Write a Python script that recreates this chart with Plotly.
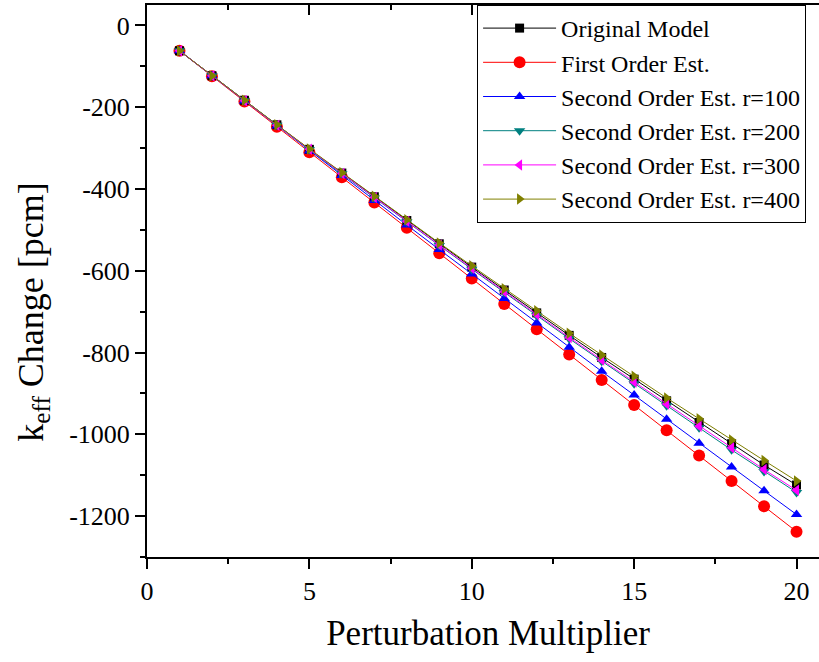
import plotly.graph_objects as go

multiplier = list(range(1, 21))

original_model = [-62, -123, -183, -243, -303, -361, -419, -477, -534, -591,
                  -647, -703, -758, -812, -865, -918, -971, -1023, -1075, -1124]
first_order = [-62, -124, -186, -248, -310, -371, -433, -495, -557, -619,
               -681, -743, -805, -867, -928, -990, -1052, -1114, -1176, -1238]
second_r100 = [-62, -123, -185, -246, -307, -367, -428, -488, -548, -608,
               -668, -728, -787, -846, -904, -963, -1022, -1080, -1138, -1196]
second_r200 = [-62, -123, -184, -244, -304, -363, -422, -480, -538, -596,
               -653, -710, -766, -821, -876, -930, -984, -1038, -1091, -1142]
second_r300 = [-62, -123, -184, -244, -303, -362, -421, -479, -537, -594,
               -651, -707, -763, -818, -872, -926, -980, -1033, -1086, -1137]
second_r400 = [-62, -123, -183, -243, -302, -360, -418, -475, -532, -588,
               -644, -698, -753, -806, -858, -911, -962, -1014, -1064, -1114]

x_tick_vals = [0, 5, 10, 15, 20]
x_tick_text = ["0", "5", "10", "15", "20"]
y_tick_vals = [0, -200, -400, -600, -800, -1000, -1200]
y_tick_text = ["0", "-200", "-400", "-600", "-800", "-1000", "-1200"]

FONT = "Liberation Serif, Times New Roman, serif"

series = [
    # name, values, color, symbol, size, legend rank
    ("First Order Est.", first_order, "#ff0000", "circle", 12, 2),
    ("Original Model", original_model, "#000000", "square", 9, 1),
    ("Second Order Est. r=100", second_r100, "#0000ff", "triangle-up", 10, 3),
    ("Second Order Est. r=200", second_r200, "#008080", "triangle-down", 10, 4),
    ("Second Order Est. r=300", second_r300, "#ff00ff", "triangle-left", 10, 5),
    ("Second Order Est. r=400", second_r400, "#808000", "triangle-right", 10, 6),
]

fig = go.Figure()
for name, vals, color, symbol, size, rank in series:
    fig.add_trace(go.Scatter(
        x=multiplier, y=vals, name=name, mode="lines+markers",
        line=dict(color=color, width=1),
        marker=dict(color=color, symbol=symbol, size=size, line=dict(width=0)),
        legendrank=rank,
    ))

# helper trace for the mirrored (top/right) axes
fig.add_trace(go.Scatter(x=[None], y=[None], xaxis="x2", yaxis="y2",
                         showlegend=False, hoverinfo="skip"))

axis_common = dict(
    showline=True, linecolor="black", linewidth=2,
    showgrid=False, zeroline=False,
    tickcolor="black", tickwidth=2,
    tickfont=dict(family=FONT, size=26, color="black"),
)

fig.update_layout(
    width=830, height=662,
    margin=dict(l=147, r=1, t=5, b=105),
    paper_bgcolor="white", plot_bgcolor="white",
    font=dict(family=FONT, color="black"),
    xaxis=dict(
        range=[0, 21], tickvals=x_tick_vals, ticktext=x_tick_text,
        ticks="outside", ticklen=10,
        minor=dict(dtick=2.5, tick0=0, ticks="outside", ticklen=5,
                   tickwidth=2, tickcolor="black"),
        title=dict(text="Perturbation Multiplier",
                   font=dict(family=FONT, size=35, color="black"), standoff=15),
        **axis_common,
    ),
    yaxis=dict(
        range=[-1300, 50], tickvals=y_tick_vals, ticktext=y_tick_text,
        ticks="outside", ticklen=10,
        minor=dict(dtick=100, tick0=0, ticks="outside", ticklen=5,
                   tickwidth=2, tickcolor="black"),
        **axis_common,
    ),
    xaxis2=dict(
        overlaying="x", side="top", anchor="y", range=[0, 21],
        tickvals=x_tick_vals, showticklabels=False,
        ticks="inside", ticklen=10,
        minor=dict(dtick=2.5, tick0=0, ticks="inside", ticklen=5,
                   tickwidth=2, tickcolor="black"),
        **axis_common,
    ),
    yaxis2=dict(
        overlaying="y", side="right", anchor="x", range=[-1300, 50],
        tickvals=y_tick_vals, showticklabels=False,
        ticks="inside", ticklen=10,
        minor=dict(dtick=100, tick0=0, ticks="inside", ticklen=5,
                   tickwidth=2, tickcolor="black"),
        **axis_common,
    ),
    legend=dict(
        x=0.484, y=1, xanchor="left", yanchor="top",
        bgcolor="white", bordercolor="black", borderwidth=1,
        font=dict(family=FONT, size=24, color="black"),
        itemwidth=73, tracegroupgap=0,
    ),
    annotations=[dict(
        text="k<sub>eff</sub> Change [pcm]", textangle=-90,
        xref="paper", yref="paper", x=-0.166, y=0.444,
        xanchor="center", yanchor="middle", showarrow=False,
        font=dict(family=FONT, size=36, color="black"),
    )],
    showlegend=True,
)

fig.write_html(
    "out.html",
    config={"displayModeBar": False},
    post_script="document.body.style.margin='0';document.body.style.overflow='hidden';",
)
